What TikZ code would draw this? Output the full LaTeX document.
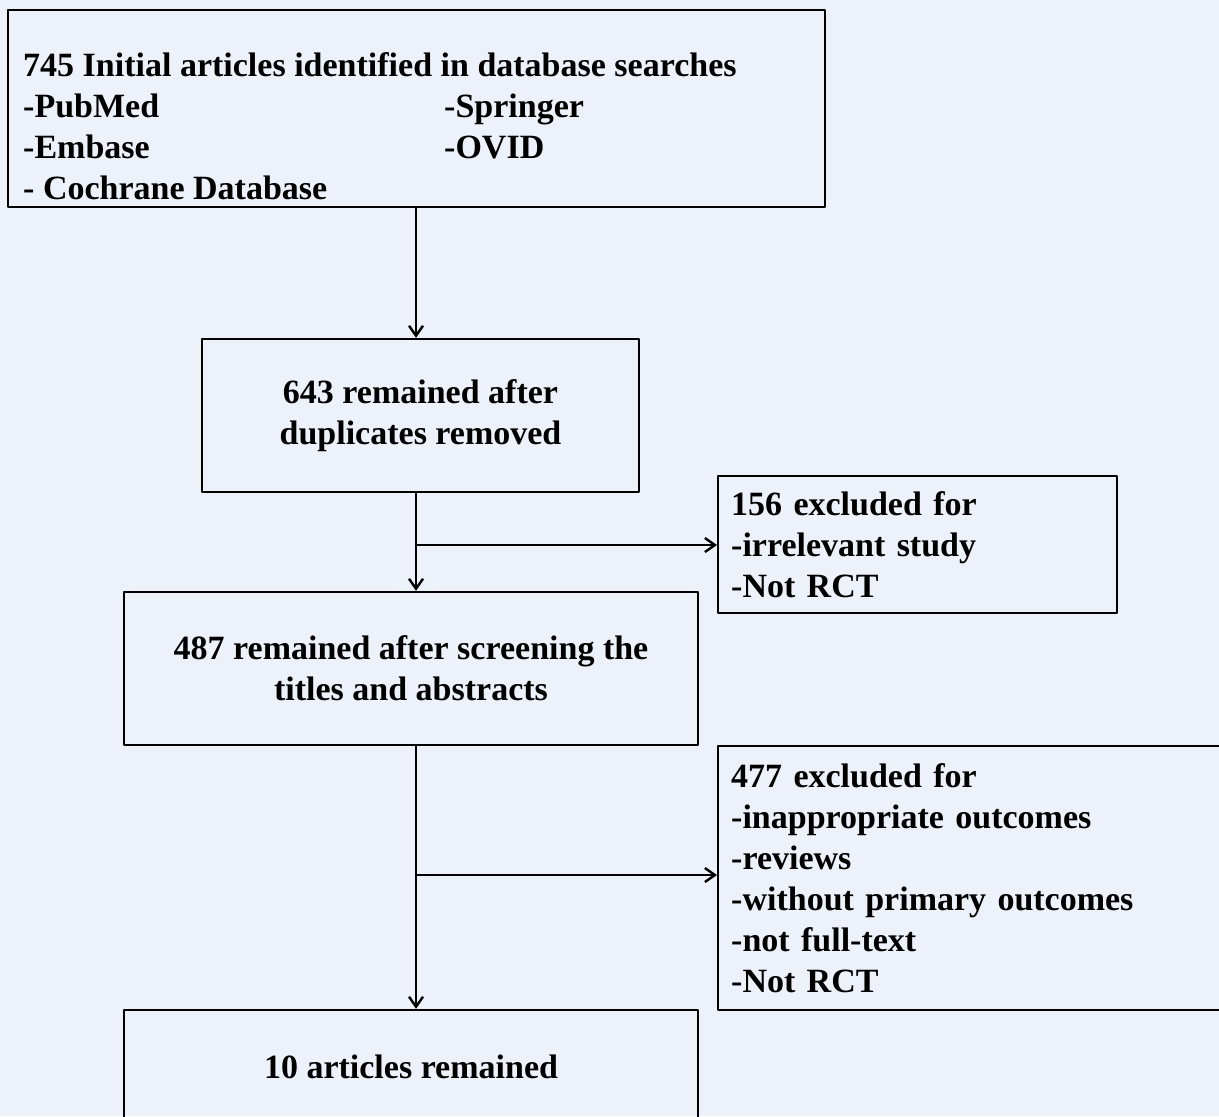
\documentclass[tikz,border=0pt]{standalone}
\usepackage{fontspec}
\setmainfont{Liberation Serif}
\usetikzlibrary{arrows.meta,positioning}
\definecolor{bgblue}{RGB}{237,241,249}
\begin{document}
\begin{tikzpicture}[x=0.5pt,y=-0.5pt,>={Straight Barb[length=5pt,width=7pt]},
		line join=round, line width=1.2pt,
		font=\fontsize{17}{20.5}\selectfont\bfseries,
		box/.style={draw, line width=1.2pt, inner sep=0pt},
		note/.style={draw, line width=1.2pt, anchor=west, align=left, inner xsep=6.5pt, inner ysep=0pt}]
	\def\xtrunk{416}
	\clip (0,0) rectangle (1219,1116);
	\fill[bgblue] (0,0) rectangle (1219,1116);
	% boxes
	\node[box, minimum width=408.5pt, minimum height=98.5pt] (search) at (416.5,108.5) {};
	\node[anchor=north west, inner sep=0pt, align=left] (searchtxt) at (22,51) {745 Initial articles identified in database searches\\
		\makebox[210.5pt][l]{-PubMed}-Springer\\
		\makebox[210.5pt][l]{-Embase}-OVID\\
		- Cochrane Database};
	\node[box, minimum width=218.5pt, minimum height=76.5pt, align=center] (dup) at (420.5,415.5) {643 remained after\\duplicates removed};
	\node[note, text width=186.5pt, minimum height=68.5pt] (excla) at (717,544.5) {156 excluded for\\-irrelevant study\\-Not RCT};
	\node[box, minimum width=287pt, minimum height=76.5pt, align=center] (screen) at (411,668.5) {487 remained after screening the\\titles and abstracts};
	\node[note, text width=250pt, minimum height=132pt] (exclb) at (717,878) {477 excluded for\\-inappropriate outcomes\\-reviews\\-without primary outcomes\\-not full-text\\-Not RCT};
	\node[box, minimum width=287pt, minimum height=57pt] (final) at (411,1067) {10 articles remained};
	% arrows
	\coordinate (spliti) at (\xtrunk,545);
	\coordinate (splitii) at (\xtrunk,875);
	\draw[->] (search.south -| spliti) -- (spliti |- dup.north);
	\draw[->] (dup.south -| spliti) -- (spliti |- screen.north);
	\draw[->] (spliti) -- (spliti -| excla.west);
	\draw[->] (screen.south -| spliti) -- (spliti |- final.north);
	\draw[->] (splitii) -- (splitii -| exclb.west);
\end{tikzpicture}
\end{document}
